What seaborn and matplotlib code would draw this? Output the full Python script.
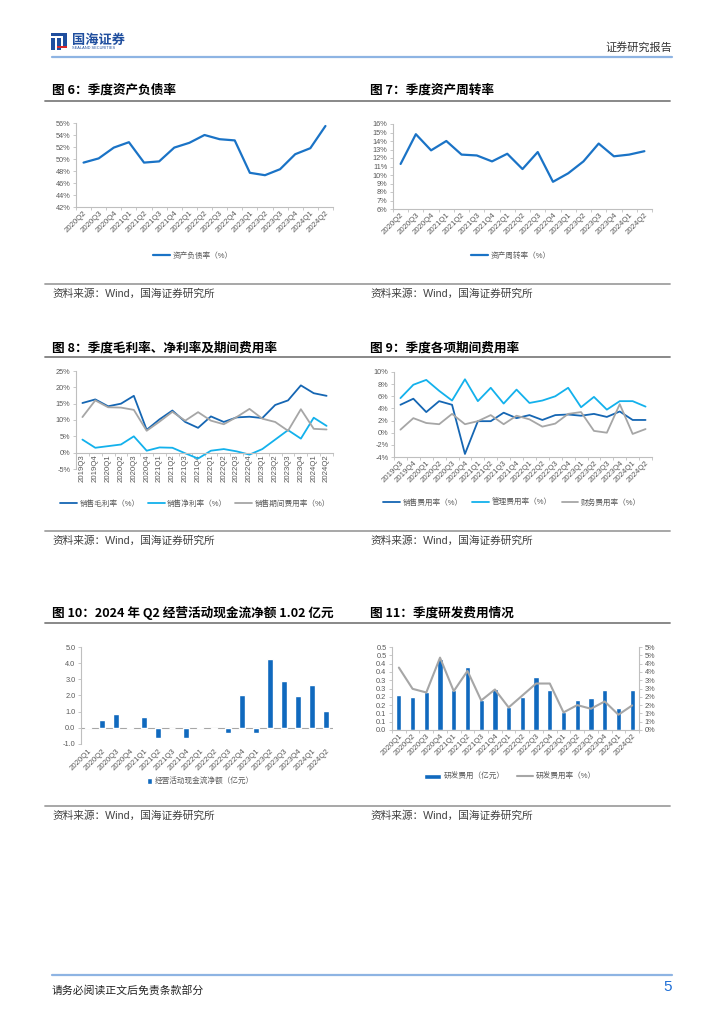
import numpy as np
import seaborn as sns
import matplotlib.pyplot as plt
from matplotlib.patches import Rectangle
from matplotlib.lines import Line2D

# ---- data ----
q_20q2 = ['2020Q2', '2020Q3', '2020Q4', '2021Q1', '2021Q2', '2021Q3', '2021Q4', '2022Q1',
          '2022Q2', '2022Q3', '2022Q4', '2023Q1', '2023Q2', '2023Q3', '2023Q4', '2024Q1', '2024Q2']
debt_ratio = [49.4, 50.1, 51.9, 52.8, 49.4, 49.6, 51.9, 52.7, 54.0, 53.3, 53.1,
              47.7, 47.3, 48.3, 50.8, 51.8, 55.5]
turnover = [11.3, 14.8, 12.9, 14.0, 12.4, 12.3, 11.6, 12.5, 10.7, 12.7, 9.2,
            10.2, 11.6, 13.7, 12.2, 12.4, 12.8]

q_19q3 = ['2019Q3', '2019Q4', '2020Q1', '2020Q2', '2020Q3', '2020Q4', '2021Q1', '2021Q2',
          '2021Q3', '2021Q4', '2022Q1', '2022Q2', '2022Q3', '2022Q4', '2023Q1', '2023Q2',
          '2023Q3', '2023Q4', '2024Q1', '2024Q2']
gross_margin = [15.2, 16.3, 14.2, 15.0, 17.4, 7.0, 10.2, 12.9, 9.4, 7.6, 11.1, 9.4,
                10.8, 11.0, 10.6, 14.6, 16.0, 20.6, 18.2, 17.4]
net_margin = [4.0, 1.5, 2.0, 2.5, 5.0, 0.6, 1.6, 1.5, -0.2, -1.8, 0.6, 1.1,
              0.4, -0.6, 1.1, 4.0, 6.9, 4.3, 10.7, 8.2]
period_exp = [10.9, 16.0, 13.9, 13.8, 13.1, 6.7, 9.5, 12.5, 9.8, 12.4, 9.8, 8.7,
              10.9, 13.4, 10.4, 9.4, 6.7, 13.3, 7.3, 7.1]

sales_exp = [4.6, 5.6, 3.4, 5.2, 4.6, -3.5, 1.9, 1.9, 3.3, 2.4, 2.9, 2.1,
             2.9, 3.0, 2.8, 3.1, 2.6, 3.5, 2.1, 2.1]
admin_exp = [5.7, 7.9, 8.7, 6.9, 5.3, 8.8, 5.2, 7.4, 4.8, 7.1, 4.9, 5.3,
             6.0, 7.4, 4.2, 5.9, 3.8, 5.2, 5.2, 4.3]
fin_exp = [0.5, 2.4, 1.6, 1.4, 3.1, 1.4, 1.9, 2.9, 1.4, 2.8, 2.2, 1.0,
           1.5, 3.1, 3.4, 0.3, 0.0, 4.7, -0.2, 0.6]

q_20q1 = ['2020Q1', '2020Q2', '2020Q3', '2020Q4', '2021Q1', '2021Q2', '2021Q3', '2021Q4',
          '2022Q1', '2022Q2', '2022Q3', '2022Q4', '2023Q1', '2023Q2', '2023Q3', '2023Q4',
          '2024Q1', '2024Q2']
op_cashflow = [0.05, 0.50, 0.85, 0.08, 0.68, -0.60, -0.03, -0.65, 0.05, -0.10, -0.35,
               2.02, -0.30, 4.25, 2.92, 1.95, 2.62, 1.02]
rd_expense = [0.21, 0.20, 0.23, 0.43, 0.24, 0.38, 0.18, 0.25, 0.14, 0.20, 0.32, 0.24,
              0.11, 0.18, 0.19, 0.24, 0.13, 0.24]
rd_ratio = [3.76, 2.48, 2.26, 4.36, 2.34, 3.56, 1.78, 2.44, 1.36, 2.08, 2.80, 2.80,
            1.06, 1.50, 1.28, 1.72, 0.92, 1.48]

pct6_ticks = ['42%', '44%', '46%', '48%', '50%', '52%', '54%', '56%']
pct7_ticks = ['6%', '7%', '8%', '9%', '10%', '11%', '12%', '13%', '14%', '15%', '16%']
pct8_ticks = ['-5%', '0%', '5%', '10%', '15%', '20%', '25%']
pct9_ticks = ['-4%', '-2%', '0%', '2%', '4%', '6%', '8%', '10%']
cf_ticks = ['-1.0', '0.0', '1.0', '2.0', '3.0', '4.0', '5.0']
rd_left_ticks = ['0.0', '0.1', '0.1', '0.2', '0.2', '0.3', '0.3', '0.4', '0.4', '0.5', '0.5']
rd_right_ticks = ['0%', '1%', '1%', '2%', '2%', '3%', '3%', '4%', '4%', '5%', '5%']

BLUE = '#1A73C6'
DARK_BLUE = '#1566B3'
LIGHT_BLUE = '#13B1EC'
GRAY = '#A6A6A6'
BAR_BLUE = '#1069BE'
TXT = '#595959'

sns.set_theme(style='white')
plt.rcParams['font.family'] = ['Liberation Sans', 'Noto Sans CJK SC']
plt.rcParams['axes.unicode_minus'] = False

W, H = 724, 1024
fig = plt.figure(figsize=(7.24, 10.24), dpi=100)


def box(l, t, r, b):
    return [l / W, 1 - b / H, (r - l) / W, (b - t) / H]


def ftext(x, y, s, **kw):
    fig.text(x / W, 1 - y / H, s, **kw)


def hline(x0, x1, y, color, lw):
    fig.add_artist(Line2D([x0 / W, x1 / W], [1 - y / H] * 2, transform=fig.transFigure,
                          color=color, lw=lw))


def style(ax, n, ylim, ystep, ylabels, rot=45, pad=2):
    ax.set_xlim(-0.5, n - 0.5)
    ax.set_ylim(*ylim)
    ax.set_yticks(np.arange(ylim[0], ylim[1] + ystep / 2, ystep))
    ax.set_yticklabels(ylabels)
    ax.set_xticks(np.arange(n + 1) - 0.5, minor=True)
    for s in ['top', 'right']:
        ax.spines[s].set_visible(False)
    for s in ['left', 'bottom']:
        ax.spines[s].set_color('#BFBFBF')
        ax.spines[s].set_linewidth(0.8)
    ax.tick_params(axis='y', which='major', length=2.5, width=0.6, color='#BFBFBF',
                   labelsize=5.3, labelcolor=TXT, pad=1.5, direction='out', left=True)
    ax.tick_params(axis='x', which='major', length=0, labelsize=5.6, labelcolor=TXT,
                   pad=pad, labelrotation=rot)
    ax.tick_params(axis='x', which='minor', length=2.5, width=0.6, color='#BFBFBF',
                   direction='out', bottom=True)
    ax.set_xlabel('')
    ax.set_ylabel('')
    for t in ax.get_xticklabels():
        if rot == 45:
            t.set_ha('right')
            t.set_va('top')
            t.set_rotation_mode('anchor')
        else:
            t.set_ha('center')
            t.set_va('top')


def legend(ax, handles, labels, x, y, ncol, spacing=1.2):
    ax.legend(handles, labels, loc='center', bbox_to_anchor=(x / W, 1 - y / H),
              bbox_transform=fig.transFigure, ncol=ncol, frameon=False, fontsize=5.5,
              handlelength=2.2, columnspacing=spacing, handletextpad=0.3,
              labelcolor=TXT)


# ---- page furniture ----
hline(52, 672, 57, '#8EB4E3', 1.6)
hline(52, 672, 975, '#8EB4E3', 1.6)
ftext(672, 47, '证券研究报告', fontsize=8, color='#333333', ha='right', va='center',
      family='Noto Sans CJK SC')
ftext(52, 990, '请务必阅读正文后免责条款部分', fontsize=7.8, color='#222222', va='center',
      family='Noto Sans CJK SC')
ftext(672, 987, '5', fontsize=11, color='#1F6FD6', ha='right', va='center')

# logo
for (l, t, r, b, c) in [(51, 33, 67, 36, '#1F4E9E'), (51, 38, 55, 50, '#1F4E9E'),
                        (57, 38, 61, 50, '#1F4E9E'), (63, 33, 67, 46, '#1F4E9E'),
                        (57, 46, 67, 48, '#D7262B')]:
    fig.add_artist(Rectangle((l / W, 1 - b / H), (r - l) / W, (b - t) / H,
                             transform=fig.transFigure, color=c, lw=0))
ftext(72, 40, '国海证券', fontsize=9.5, color='#1F4E9E', weight='bold', va='center',
      family='Noto Sans CJK SC')
ftext(72, 48, 'SEALAND SECURITIES', fontsize=2.8, color='#1F4E9E', va='center')

titles = [(52, 90, '图 6：季度资产负债率'), (370, 90, '图 7：季度资产周转率'),
          (52, 348, '图 8：季度毛利率、净利率及期间费用率'), (370, 348, '图 9：季度各项期间费用率'),
          (52, 613, '图 10：2024 年 Q2 经营活动现金流净额 1.02 亿元'),
          (370, 613, '图 11：季度研发费用情况')]
for x, y, s in titles:
    ftext(x, y, s, fontsize=9.1, weight='bold', color='black', va='center',
          family='Noto Sans CJK SC')
for y in [101, 357, 623]:
    hline(45, 670, y, '#7F7F7F', 1.3)
for y in [284, 531, 806]:
    hline(45, 670, y, '#A0A0A0', 1.3)
    ftext(52, y + 9.5, '资料来源：Wind，国海证券研究所', fontsize=7.7, color='#404040',
          va='center')
    ftext(370, y + 9.5, '资料来源：Wind，国海证券研究所', fontsize=7.7, color='#404040',
          va='center')

# ---- chart 6 ----
ax6 = fig.add_axes(box(76, 123, 333, 207))
sns.lineplot(x=q_20q2, y=debt_ratio, ax=ax6, color=BLUE, lw=1.6, sort=False)
style(ax6, len(q_20q2), (42, 56), 2, pct6_ticks)
legend(ax6, ax6.get_lines()[:1], ['资产负债率（%）'], 193, 256, 1)

# ---- chart 7 ----
ax7 = fig.add_axes(box(393, 124, 652, 209))
sns.lineplot(x=q_20q2, y=turnover, ax=ax7, color=BLUE, lw=1.6, sort=False)
style(ax7, len(q_20q2), (6, 16), 1, pct7_ticks)
legend(ax7, ax7.get_lines()[:1], ['资产周转率（%）'], 511, 256, 1)

# ---- chart 8 ----
ax8 = fig.add_axes(box(76, 371, 333, 469))
for vals, c, lab in [(gross_margin, DARK_BLUE, '销售毛利率（%）'),
                     (net_margin, LIGHT_BLUE, '销售净利率（%）'),
                     (period_exp, GRAY, '销售期间费用率（%）')]:
    sns.lineplot(x=q_19q3, y=vals, ax=ax8, color=c, lw=1.3, sort=False, label=lab)
ax8.spines['bottom'].set_position(('data', 0))
style(ax8, len(q_19q3), (-5, 25), 5, pct8_ticks, rot=90, pad=1.5)
h, l = ax8.get_legend_handles_labels()
legend(ax8, h, l, 195, 504, 3, 1.1)

# ---- chart 9 ----
ax9 = fig.add_axes(box(394, 372, 652, 457))
for vals, c, lab in [(sales_exp, DARK_BLUE, '销售费用率（%）'),
                     (admin_exp, LIGHT_BLUE, '管理费用率（%）'),
                     (fin_exp, GRAY, '财务费用率（%）')]:
    sns.lineplot(x=q_19q3, y=vals, ax=ax9, color=c, lw=1.3, sort=False, label=lab)
style(ax9, len(q_19q3), (-4, 10), 2, pct9_ticks)
h, l = ax9.get_legend_handles_labels()
legend(ax9, h, l, 512, 503, 3, 1.3)

# ---- chart 10 ----
ax10 = fig.add_axes(box(81, 647, 333, 744))
sns.barplot(x=q_20q1, y=op_cashflow, ax=ax10, color=BAR_BLUE, width=0.36,
            saturation=1, label='经营活动现金流净额（亿元）')
style(ax10, len(q_20q1), (-1, 5), 1, cf_ticks, pad=2.5)
ax10.spines['bottom'].set_visible(False)
ax10.tick_params(axis='x', which='minor', length=0)
ax10.axhline(0, color='#A6A6A6', lw=0.8, zorder=0)
h, l = ax10.get_legend_handles_labels()
ax10.legend(h, l, loc='center', bbox_to_anchor=(200 / W, 1 - 782 / H),
            bbox_transform=fig.transFigure, frameon=False, fontsize=5.5,
            handlelength=0.7, handleheight=0.8, handletextpad=0.3, labelcolor=TXT)

# ---- chart 11 ----
ax11 = fig.add_axes(box(392, 647, 639, 730))
sns.barplot(x=q_20q1, y=rd_expense, ax=ax11, color=BAR_BLUE, width=0.38,
            saturation=1, label='研发费用（亿元）')
style(ax11, len(q_20q1), (0, 0.5), 0.05, rd_left_ticks)
ax11b = ax11.twinx()
sns.lineplot(x=q_20q1, y=rd_ratio, ax=ax11b, color=GRAY, lw=1.5, sort=False,
             label='研发费用率（%）')
ax11b.set_ylim(0, 5)
ax11b.set_yticks(np.arange(0, 5.25, 0.5))
ax11b.set_yticklabels(rd_right_ticks)
ax11b.set_ylabel('')
ax11b.grid(False)
for s in ['top', 'left', 'bottom']:
    ax11b.spines[s].set_visible(False)
ax11b.spines['right'].set_color('#BFBFBF')
ax11b.spines['right'].set_linewidth(0.8)
ax11b.tick_params(axis='y', length=2.5, width=0.6, color='#BFBFBF', labelsize=5.3,
                  labelcolor=TXT, pad=1.5, direction='out', right=True)
if ax11b.get_legend():
    ax11b.get_legend().remove()
h1, l1 = ax11.get_legend_handles_labels()
h2, l2 = ax11b.get_legend_handles_labels()
legend(ax11, h1 + h2, l1 + l2, 510, 777, 2, 1.6)

fig.savefig('out.png', dpi=100)
